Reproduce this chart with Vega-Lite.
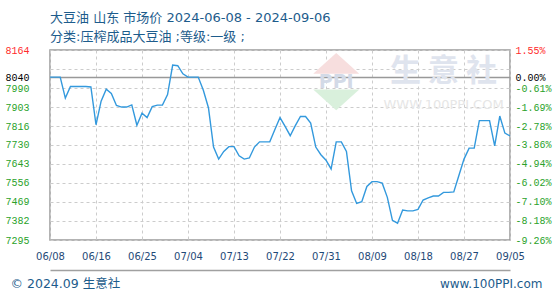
{
  "$schema": "https://vega.github.io/schema/vega-lite/v6.json",
  "width": 460,
  "height": 190,
  "autosize": "none",
  "padding": {"left": 50, "top": 50, "right": 50, "bottom": 60},
  "background": "white",
  "title": {
    "text": "大豆油 山东 市场价 2024-06-08 - 2024-09-06",
    "subtitle": "分类:压榨成品大豆油 ;等级:一级 ;",
    "anchor": "start",
    "frame": "group",
    "font": "DejaVu Sans, Noto Sans CJK SC",
    "fontSize": 13,
    "fontWeight": "normal",
    "color": "#1d5c8c",
    "subtitleFont": "DejaVu Sans, Noto Sans CJK SC",
    "subtitleFontSize": 13,
    "subtitleColor": "#1d5c8c",
    "subtitlePadding": 6,
    "offset": 1
  },
  "config": {"view": {"stroke": "#9a9a9a", "strokeWidth": 1.5}},
  "datasets": {
    "prices": [
      {"date": "2024-06-08", "price": 8040},
      {"date": "2024-06-09", "price": 8040},
      {"date": "2024-06-10", "price": 8040},
      {"date": "2024-06-11", "price": 7944},
      {"date": "2024-06-12", "price": 7997},
      {"date": "2024-06-13", "price": 7997},
      {"date": "2024-06-14", "price": 7997},
      {"date": "2024-06-15", "price": 7997},
      {"date": "2024-06-16", "price": 7995},
      {"date": "2024-06-17", "price": 7822},
      {"date": "2024-06-18", "price": 7930},
      {"date": "2024-06-19", "price": 7985},
      {"date": "2024-06-20", "price": 7965},
      {"date": "2024-06-21", "price": 7910},
      {"date": "2024-06-22", "price": 7903},
      {"date": "2024-06-23", "price": 7903},
      {"date": "2024-06-24", "price": 7913},
      {"date": "2024-06-25", "price": 7820},
      {"date": "2024-06-26", "price": 7875},
      {"date": "2024-06-27", "price": 7855},
      {"date": "2024-06-28", "price": 7905},
      {"date": "2024-06-29", "price": 7912},
      {"date": "2024-06-30", "price": 7912},
      {"date": "2024-07-01", "price": 7960},
      {"date": "2024-07-02", "price": 8095},
      {"date": "2024-07-03", "price": 8092},
      {"date": "2024-07-04", "price": 8055},
      {"date": "2024-07-05", "price": 8040},
      {"date": "2024-07-06", "price": 8040},
      {"date": "2024-07-07", "price": 8040},
      {"date": "2024-07-08", "price": 7980},
      {"date": "2024-07-09", "price": 7900},
      {"date": "2024-07-10", "price": 7720},
      {"date": "2024-07-11", "price": 7665},
      {"date": "2024-07-12", "price": 7700},
      {"date": "2024-07-13", "price": 7722},
      {"date": "2024-07-14", "price": 7722},
      {"date": "2024-07-15", "price": 7680},
      {"date": "2024-07-16", "price": 7665},
      {"date": "2024-07-17", "price": 7670},
      {"date": "2024-07-18", "price": 7720},
      {"date": "2024-07-19", "price": 7744},
      {"date": "2024-07-20", "price": 7744},
      {"date": "2024-07-21", "price": 7744},
      {"date": "2024-07-22", "price": 7800},
      {"date": "2024-07-23", "price": 7855},
      {"date": "2024-07-24", "price": 7815},
      {"date": "2024-07-25", "price": 7772},
      {"date": "2024-07-26", "price": 7818},
      {"date": "2024-07-27", "price": 7860},
      {"date": "2024-07-28", "price": 7860},
      {"date": "2024-07-29", "price": 7830},
      {"date": "2024-07-30", "price": 7720},
      {"date": "2024-07-31", "price": 7685},
      {"date": "2024-08-01", "price": 7660},
      {"date": "2024-08-02", "price": 7620},
      {"date": "2024-08-03", "price": 7744},
      {"date": "2024-08-04", "price": 7744},
      {"date": "2024-08-05", "price": 7700},
      {"date": "2024-08-06", "price": 7520},
      {"date": "2024-08-07", "price": 7462},
      {"date": "2024-08-08", "price": 7470},
      {"date": "2024-08-09", "price": 7540},
      {"date": "2024-08-10", "price": 7562},
      {"date": "2024-08-11", "price": 7562},
      {"date": "2024-08-12", "price": 7555},
      {"date": "2024-08-13", "price": 7490},
      {"date": "2024-08-14", "price": 7385},
      {"date": "2024-08-15", "price": 7372},
      {"date": "2024-08-16", "price": 7432},
      {"date": "2024-08-17", "price": 7428},
      {"date": "2024-08-18", "price": 7428},
      {"date": "2024-08-19", "price": 7435},
      {"date": "2024-08-20", "price": 7478},
      {"date": "2024-08-21", "price": 7488},
      {"date": "2024-08-22", "price": 7496},
      {"date": "2024-08-23", "price": 7496},
      {"date": "2024-08-24", "price": 7513},
      {"date": "2024-08-25", "price": 7513},
      {"date": "2024-08-26", "price": 7515},
      {"date": "2024-08-27", "price": 7590},
      {"date": "2024-08-28", "price": 7665},
      {"date": "2024-08-29", "price": 7715},
      {"date": "2024-08-30", "price": 7715},
      {"date": "2024-08-31", "price": 7841},
      {"date": "2024-09-01", "price": 7841},
      {"date": "2024-09-02", "price": 7841},
      {"date": "2024-09-03", "price": 7725},
      {"date": "2024-09-04", "price": 7862},
      {"date": "2024-09-05", "price": 7784},
      {"date": "2024-09-06", "price": 7771}
    ]
  },
  "layer": [
    {
      "data": {"values": [{"date": "2024-08-03", "price": 8103}]},
      "mark": {"type": "point", "filled": true, "size": 2116, "strokeWidth": 0, "opacity": 1, "color": "#f7dede", "shape": "M-1,0.45L0,-0.45L1,0.45Z"},
      "encoding": {
        "x": {"field": "date", "type": "temporal", "axis": null},
        "y": {"field": "price", "type": "quantitative", "axis": null}
      }
    },
    {
      "data": {"values": [{"date": "2024-08-03", "price": 7936}]},
      "mark": {"type": "point", "filled": true, "size": 2116, "strokeWidth": 0, "opacity": 1, "color": "#d9f0dc", "shape": "M-1,-0.45L0,0.45L1,-0.45Z"},
      "encoding": {
        "x": {"field": "date", "type": "temporal", "axis": null},
        "y": {"field": "price", "type": "quantitative", "axis": null}
      }
    },
    {
      "data": {"values": [{"label": "PPI", "date": "2024-08-03", "price": 8018}]},
      "mark": {"type": "text", "font": "DejaVu Sans", "fontSize": 19, "fontWeight": "bold", "color": "#d3dae7", "align": "center", "baseline": "middle"},
      "encoding": {
        "x": {"field": "date", "type": "temporal", "axis": null},
        "y": {"field": "price", "type": "quantitative", "axis": null},
        "text": {"field": "label"}
      }
    },
    {
      "data": {"values": [{"label": "生 意 社", "date": "2024-08-24", "price": 8064}]},
      "mark": {"type": "text", "font": "Noto Sans CJK SC", "fontSize": 31, "fontWeight": "bold", "color": "#dfe4ee", "align": "center", "baseline": "middle"},
      "encoding": {
        "x": {"field": "date", "type": "temporal", "axis": null},
        "y": {"field": "price", "type": "quantitative", "axis": null},
        "text": {"field": "label"}
      }
    },
    {
      "data": {"values": [{"label": "WWW.100PPI.COM", "date": "2024-08-24", "price": 7913}]},
      "mark": {"type": "text", "font": "DejaVu Sans", "fontSize": 13, "color": "#e6e6e6", "align": "center", "baseline": "middle"},
      "encoding": {
        "x": {"field": "date", "type": "temporal", "axis": null},
        "y": {"field": "price", "type": "quantitative", "axis": null},
        "text": {"field": "label"}
      }
    },
    {
      "data": {"name": "prices"},
      "mark": {"type": "line", "color": "#3399dd", "strokeWidth": 1.4},
      "encoding": {
        "x": {
          "field": "date", "type": "temporal",
          "scale": {"type": "utc", "domain": [{"year": 2024, "month": 6, "date": 8, "utc": true}, {"year": 2024, "month": 9, "date": 6, "utc": true}]},
          "axis": {
            "orient": "bottom",
            "values": [
              {"year": 2024, "month": 6, "date": 8, "utc": true},
              {"year": 2024, "month": 6, "date": 17, "utc": true},
              {"year": 2024, "month": 6, "date": 26, "utc": true},
              {"year": 2024, "month": 7, "date": 5, "utc": true},
              {"year": 2024, "month": 7, "date": 14, "utc": true},
              {"year": 2024, "month": 7, "date": 23, "utc": true},
              {"year": 2024, "month": 8, "date": 1, "utc": true},
              {"year": 2024, "month": 8, "date": 10, "utc": true},
              {"year": 2024, "month": 8, "date": 19, "utc": true},
              {"year": 2024, "month": 8, "date": 28, "utc": true},
              {"year": 2024, "month": 9, "date": 6, "utc": true}
            ],
            "labelExpr": "datum.index == 0 ? '06/08' : utcFormat(datum.value - 86400000, '%m/%d')",
            "grid": true,
            "gridColor": "#cccccc",
            "gridDash": [3, 3],
            "ticks": false,
            "domain": false,
            "labelPadding": 11,
            "labelFont": "DejaVu Sans",
            "labelFontSize": 10,
            "labelColor": "#1f4a78",
            "labelFlush": false,
            "title": "© 2024.09 生意社",
            "titleX": -40,
            "titleY": 43,
            "titleAlign": "left",
            "titleAnchor": "start",
            "titleBaseline": "middle",
            "titleFont": "DejaVu Sans, Noto Sans CJK SC",
            "titleFontSize": 12.5,
            "titleFontWeight": "normal",
            "titleColor": "#1d5c8c"
          }
        },
        "y": {
          "field": "price", "type": "quantitative",
          "scale": {"domain": [7295, 8164], "nice": false, "zero": false},
          "axis": {
            "orient": "left",
            "values": [7295, 7382, 7469, 7556, 7643, 7730, 7816, 7903, 7990, 8040, 8077, 8164],
            "format": "d",
            "labelExpr": "datum.value == 8077 ? '' : datum.label",
            "title": null,
            "ticks": false,
            "domain": false,
            "labelPadding": 21,
            "labelFont": "Liberation Mono",
            "labelFontSize": 10,
            "labelColor": {"condition": [{"test": "datum.value == 8164", "value": "#ff2b2b"}, {"test": "datum.value == 8040", "value": "#000000"}], "value": "#2aa22a"},
            "grid": true,
            "gridColor": {"condition": {"test": "datum.value == 8040", "value": "#999999"}, "value": "#cccccc"},
            "gridDash": {"condition": {"test": "datum.value == 8040", "value": []}, "value": [3, 3]},
            "gridWidth": {"condition": {"test": "datum.value == 8040", "value": 1.5}, "value": 1}
          }
        }
      }
    },
    {
      "data": {"name": "prices"},
      "mark": {"type": "line", "opacity": 0},
      "encoding": {
        "x": {
          "field": "date", "type": "temporal",
          "axis": {"orient": "bottom", "offset": 30, "labels": false, "ticks": false, "grid": false, "domain": true, "domainColor": "#a0a0a0", "domainWidth": 1.5, "title": null}
        },
        "y": {
          "field": "price", "type": "quantitative",
          "axis": {
            "orient": "right",
            "values": [7295, 7382, 7469, 7556, 7643, 7730, 7816, 7903, 7990, 8040, 8164],
            "labelExpr": "datum.value == 8164 ? '1.55%' : datum.value == 8040 ? '0.00%' : datum.value == 7990 ? '-0.61%' : datum.value == 7903 ? '-1.69%' : datum.value == 7816 ? '-2.78%' : datum.value == 7730 ? '-3.86%' : datum.value == 7643 ? '-4.94%' : datum.value == 7556 ? '-6.02%' : datum.value == 7469 ? '-7.10%' : datum.value == 7382 ? '-8.18%' : '-9.26%'",
            "grid": false,
            "ticks": false,
            "domain": false,
            "labelPadding": 5,
            "labelFont": "Liberation Mono",
            "labelFontSize": 10,
            "labelColor": {"condition": [{"test": "datum.value == 8164", "value": "#ff2b2b"}, {"test": "datum.value == 8040", "value": "#000000"}], "value": "#2aa22a"},
            "title": "www.100PPI.com",
            "titleAngle": 0,
            "titleX": 32,
            "titleY": 233,
            "titleAlign": "right",
            "titleBaseline": "middle",
            "titleFont": "DejaVu Sans",
            "titleFontSize": 12,
            "titleFontWeight": "normal",
            "titleColor": "#1d5c8c"
          }
        }
      }
    }
  ],
  "resolve": {"axis": {"x": "independent", "y": "independent"}}
}
